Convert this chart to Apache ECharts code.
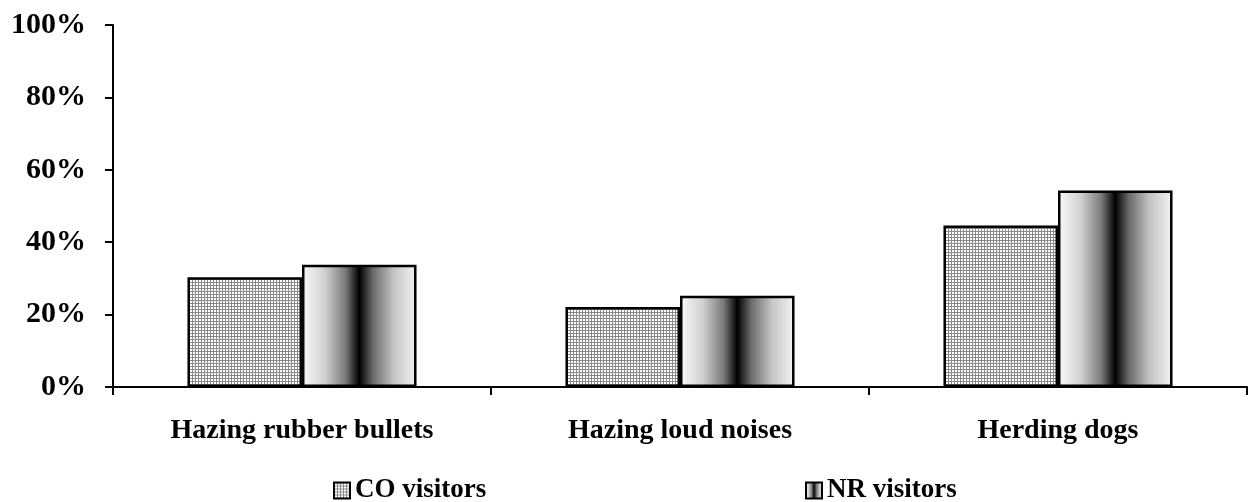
<!DOCTYPE html>
<html>
<head>
<meta charset="utf-8">
<script src="https://cdn.jsdelivr.net/npm/echarts@6/dist/echarts.min.js"></script>
<style>
html,body{margin:0;padding:0;background:#fff;}
#chart{width:1251px;height:502px;}
</style>
</head>
<body>
<div id="chart"></div>
<script>
var categories = ['Hazing rubber bullets', 'Hazing loud noises', 'Herding dogs'];
var coVisitors = [30.3, 22.1, 44.6];
var nrVisitors = [33.8, 25.2, 54.3];
var seriesNames = ['CO visitors', 'NR visitors'];
var yTicks = [0, 20, 40, 60, 80, 100];

var FONT = "'Liberation Serif', 'Times New Roman', serif";

// grid-hatch pattern for CO visitors
var pc = document.createElement('canvas');
pc.width = 3; pc.height = 3;
var pctx = pc.getContext('2d');
pctx.fillStyle = '#ffffff';
pctx.fillRect(0, 0, 3, 3);
pctx.fillStyle = '#8a8a8a';
pctx.fillRect(0, 0, 3, 1);
pctx.fillRect(0, 0, 1, 3);

var nrGradient = new echarts.graphic.LinearGradient(0, 0, 1, 0, [
  {offset: 0, color: '#fbfbfb'},
  {offset: 0.2, color: '#d0d0d0'},
  {offset: 0.38, color: '#7a7a7a'},
  {offset: 0.5, color: '#000000'},
  {offset: 0.62, color: '#6a6a6a'},
  {offset: 0.8, color: '#c4c4c4'},
  {offset: 1, color: '#f4f4f4'}
]);

var legendText = {fontFamily: FONT, fontWeight: 'bold', fontSize: 27, color: '#000'};

var chart = echarts.init(document.getElementById('chart'), null, {renderer: 'canvas'});
chart.setOption({
  animation: false,
  backgroundColor: '#ffffff',
  grid: {left: 113, right: 4, top: 25, bottom: 115, containLabel: false},
  legend: [
    {data: [seriesNames[0]], icon: 'rect', left: 333, top: 477, padding: 0, itemWidth: 16, itemHeight: 16,
     textStyle: legendText},
    {data: [seriesNames[1]], icon: 'rect', left: 805, top: 477, padding: 0, itemWidth: 16, itemHeight: 16,
     textStyle: legendText}
  ],
  xAxis: {
    type: 'category',
    data: categories,
    axisLine: {lineStyle: {color: '#000', width: 2}},
    axisTick: {show: true, length: 8, lineStyle: {color: '#000', width: 2}},
    axisLabel: {margin: 30, fontFamily: FONT, fontWeight: 'bold', fontSize: 28, color: '#000'}
  },
  yAxis: {
    type: 'value',
    min: yTicks[0],
    max: yTicks[yTicks.length - 1],
    interval: yTicks[1] - yTicks[0],
    splitLine: {show: false},
    axisLine: {show: true, lineStyle: {color: '#000', width: 2}},
    axisTick: {show: true, length: 8, lineStyle: {color: '#000', width: 2}},
    axisLabel: {margin: 27, formatter: '{value}%', fontFamily: FONT, fontWeight: 'bold', fontSize: 30, color: '#000'}
  },
  series: [
    {name: seriesNames[0], type: 'bar', data: coVisitors, barGap: '0%', barCategoryGap: '39.4%',
     itemStyle: {color: {image: pc, repeat: 'repeat'}, borderColor: '#000', borderWidth: 2.5}},
    {name: seriesNames[1], type: 'bar', data: nrVisitors, barGap: '0%', barCategoryGap: '39.4%',
     itemStyle: {color: nrGradient, borderColor: '#000', borderWidth: 2.5}}
  ]
});
</script>
</body>
</html>
